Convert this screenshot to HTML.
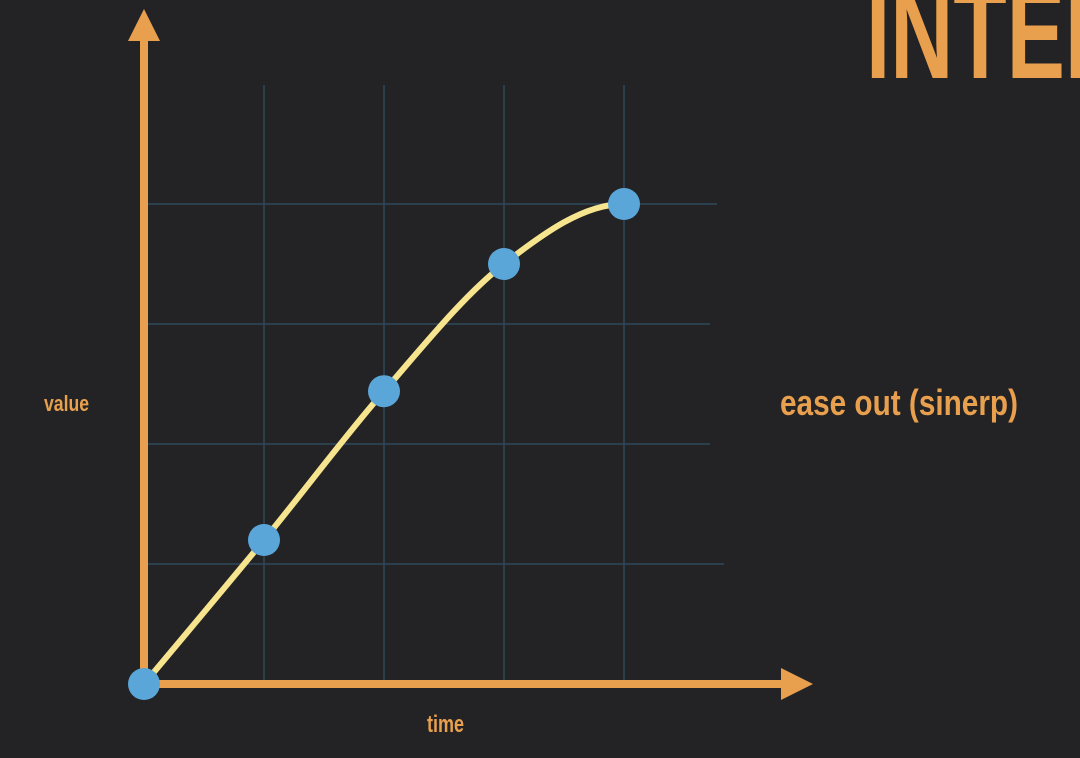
<!DOCTYPE html>
<html><head><meta charset="utf-8"><style>
html,body{margin:0;padding:0;background:#232224;}
svg{display:block;}
text{font-family:"Liberation Sans",sans-serif;font-weight:bold;fill:#e9a04e;}
</style></head><body>
<svg id="c" width="1080" height="758" viewBox="0 0 1080 758">
<rect width="1080" height="758" fill="#232224"/>
<text x="866" y="78" font-size="130" textLength="262" lengthAdjust="spacingAndGlyphs">INTER</text>
<text x="780" y="415" font-size="36" textLength="238" lengthAdjust="spacingAndGlyphs">ease out (sinerp)</text>
<text x="44" y="411" font-size="22" textLength="45" lengthAdjust="spacingAndGlyphs">value</text>
<text x="427" y="732" font-size="24" textLength="37" lengthAdjust="spacingAndGlyphs">time</text>
<g id="grid"></g>
<g id="axes"></g>
<g id="series"></g>
</svg>
<script>
const times = [0, 1, 2, 3, 4];
const values = [0, 0.30, 0.61, 0.875, 1.0];
const xTicks = [1, 2, 3, 4];
const yTicks = [0.25, 0.5, 0.75, 1.0];

const NS = "http://www.w3.org/2000/svg";
const x0 = 144, xStep = 120, y0 = 684, yFull = 480;
function xs(t){ return x0 + t * xStep; }
function ys(v){ return y0 - v * yFull; }
function mk(tag, attrs, parent){
  const e = document.createElementNS(NS, tag);
  for (const k in attrs) e.setAttribute(k, attrs[k]);
  parent.appendChild(e);
  return e;
}
const grid = document.getElementById('grid');
xTicks.forEach(t => {
  const l = mk('line', {x1: xs(t), x2: xs(t), y1: 85, y2: y0, stroke: '#30495a', 'stroke-width': 1.5}, grid);
  
  
});
const hEnds = [724, 710, 710, 717];
yTicks.forEach((v, i) => {
  const l = mk('line', {x1: 148, x2: hEnds[i], y1: ys(v), y2: ys(v), stroke: '#30495a', 'stroke-width': 1.5}, grid);
  
  
});
const axes = document.getElementById('axes');
let a = mk('line', {x1: x0, x2: x0, y1: 36, y2: y0 + 4, stroke: '#e9a04e', 'stroke-width': 8}, axes);


a = mk('polygon', {points: '144,9 128,41 160,41', fill: '#e9a04e'}, axes);


a = mk('line', {x1: x0 - 4, x2: 786, y1: y0, y2: y0, stroke: '#e9a04e', 'stroke-width': 8}, axes);


a = mk('polygon', {points: '813,684 781,668 781,700', fill: '#e9a04e'}, axes);



const series = document.getElementById('series');
const pts = times.map((t, i) => [xs(t), ys(values[i])]);
let d = 'M' + pts[0][0] + ',' + pts[0][1];
for (let i = 0; i < pts.length - 1; i++){
  const p0 = pts[Math.max(0, i - 1)], p1 = pts[i], p2 = pts[i + 1], p3 = pts[Math.min(pts.length - 1, i + 2)];
  const c1x = p1[0] + (p2[0] - p0[0]) / 6, c1y = p1[1] + (p2[1] - p0[1]) / 6;
  let c2x = p2[0] - (p3[0] - p1[0]) / 6, c2y = p2[1] - (p3[1] - p1[1]) / 6;
  if (i === pts.length - 2){ c2x = p2[0] - (p2[0] - p1[0]) / 3; c2y = p2[1]; }
  d += ' C' + c1x + ',' + c1y + ' ' + c2x + ',' + c2y + ' ' + p2[0] + ',' + p2[1];
}
const curve = mk('path', {d: d, fill: 'none', stroke: '#f6e48e', 'stroke-width': 6, 'stroke-linecap': 'round'}, series);


pts.forEach((p, i) => {
  const c = mk('circle', {cx: p[0], cy: p[1], r: 16, fill: '#5aa6d9'}, series);
  
  
});
</script>
</body></html>
